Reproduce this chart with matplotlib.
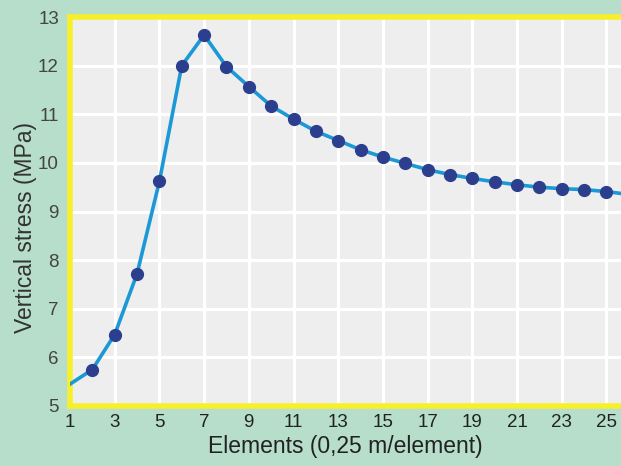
import matplotlib
matplotlib.use("Agg")
import matplotlib.pyplot as plt

elements = [1, 2, 3, 4, 5, 6, 7, 8, 9, 10, 11, 12, 13, 14, 15, 16, 17, 18, 19, 20, 21, 22, 23, 24, 25, 26]
stress = [5.45, 5.75, 6.47, 7.72, 9.62, 12.0, 12.63, 11.98, 11.57, 11.17, 10.9, 10.65, 10.46, 10.27, 10.12,
          9.99, 9.86, 9.76, 9.68, 9.61, 9.55, 9.5, 9.47, 9.45, 9.41, 9.35]
marker_elements = elements[1:25]
marker_stress = stress[1:25]
xticks = [1, 3, 5, 7, 9, 11, 13, 15, 17, 19, 21, 23, 25]
yticks = [5, 6, 7, 8, 9, 10, 11, 12, 13]

plt.rcParams['font.family'] = ['Liberation Sans', 'DejaVu Sans']

W, H = 621, 466
fig = plt.figure(figsize=(W / 100, H / 100), dpi=100)
fig.patch.set_facecolor('#b6decb')

left, right, top, bottom = 70, 621, 17, 406
ax = fig.add_axes([left / W, 1 - bottom / H, (right - left) / W, (bottom - top) / H])
ax.set_facecolor('#eeeeee')
ax.set_xlim(1, 1 + (right - left) / 22.35)
ax.set_ylim(5, 13)

ax.set_xticks(xticks)
ax.set_yticks(yticks)
ax.grid(True, color='white', linewidth=2.2)
ax.set_axisbelow(True)
ax.tick_params(axis='x', length=0, labelsize=13.5, colors='#222222', pad=6)
ax.tick_params(axis='y', length=0, labelsize=13.5, colors='#444444', pad=8)

for side in ['left', 'top', 'bottom']:
    ax.spines[side].set_color('#f7ef2a')
    ax.spines[side].set_linewidth(4)
ax.spines['right'].set_visible(False)

ax.plot(elements, stress, color='#1b98d5', linewidth=2.6, zorder=3, clip_on=True)
ax.plot(marker_elements, marker_stress, linestyle='none', marker='o', markersize=8.5,
        markerfacecolor='#2c3f8e', markeredgecolor='#2c3f8e', zorder=4)

ax.set_xlabel('Elements (0,25 m/element)', fontsize=16.5, color='#222222', labelpad=3)
ax.set_ylabel('Vertical stress (MPa)', fontsize=16.5, color='#333333')
ax.yaxis.set_label_coords(-0.06, 0.46)

fig.savefig('out.png', dpi=100, facecolor=fig.get_facecolor())
